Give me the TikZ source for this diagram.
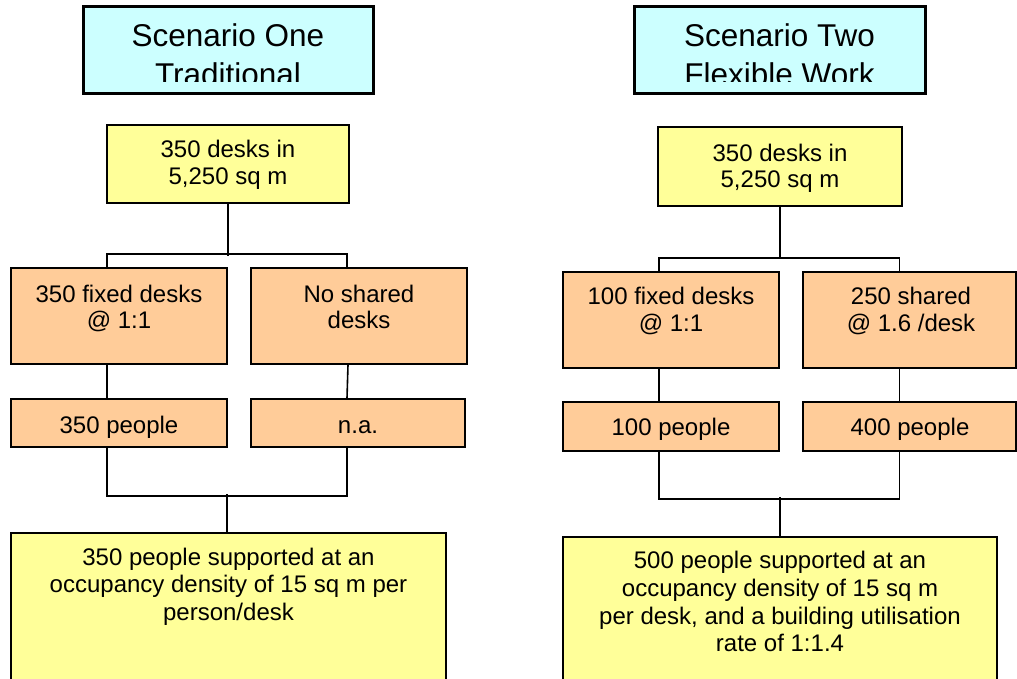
\documentclass[tikz,border=0pt]{standalone}
\usepackage{fontspec}
\setmainfont{Liberation Sans}
\definecolor{hcyan}{HTML}{CCFFFF}
\definecolor{byellow}{HTML}{FFFF99}
\definecolor{borange}{HTML}{FFCC99}
\tikzset{
  boxbase/.style={draw=black, line width=1.6pt, inner sep=0pt, rectangle},
  headbox/.style={boxbase, fill=hcyan, line width=3pt},
  ybox/.style={boxbase, fill=byellow},
  obox/.style={boxbase, fill=borange},
  txt/.style={anchor=base, inner sep=0pt, font=\fontsize{24}{28}\selectfont},
  htxt/.style={anchor=base, inner sep=0pt, font=\fontsize{31.5}{36}\selectfont},
  conn/.style={draw=black, line width=1.6pt}
}
\begin{document}
\begin{tikzpicture}[x=1pt,y=-1pt]
\clip (0,0) rectangle (1017,679);
\fill[white] (0,0) rectangle (1017,679);

% ---------- Scenario One ----------
\node[headbox, minimum width=290pt, minimum height=87pt] (h1) at (228,50.5) {};
\begin{scope}
  \clip (84,8) rectangle (372,82);
  \node[htxt] (h1a) at (228,47) {Scenario One};
  \node[htxt] (h1b) at (228,86) {Traditional};
\end{scope}

\node[ybox, minimum width=242pt, minimum height=78pt] (t1) at (228,164) {};
\node[txt] at (228,158) {350 desks in};
\node[txt] at (228,185) {5,250 sq m};

\node[obox, minimum width=216pt, minimum height=96pt] (m1) at (119,316) {};
\node[txt] at (119,302) {350 fixed desks};
\node[txt] at (119,328) {@ 1:1};
\node[obox, minimum width=216pt, minimum height=96pt] (m2) at (359,316) {};
\node[txt] at (359,302) {No shared};
\node[txt] at (359,328) {desks};

\node[obox, minimum width=216pt, minimum height=48pt] (p1) at (119,423) {};
\node[txt] at (119,433) {350 people};
\node[obox, minimum width=214pt, minimum height=48pt] (p2) at (358,423) {};
\node[txt] at (358,433) {n.a.};

\node[ybox, minimum width=435pt, minimum height=167pt] (b1) at (228.5,616.5) {};
\node[txt] at (228.5,565) {350 people supported at an};
\node[txt] at (228.5,592) {occupancy density of 15 sq m per};
\node[txt] at (228.5,620) {person/desk};

\draw[conn] (t1.south) -- ++(0,52);
\draw[conn] ([xshift=-12pt]m1.north) -- ++(0,-13) -| ([xshift=-12pt]m2.north);
\draw[conn] ([xshift=-12pt]m1.south) -- ([xshift=-12pt]p1.north);
\draw[conn] ([xshift=-11pt]m2.south) -- ([xshift=-11pt]p2.north);
\draw[conn] ([xshift=-12pt]p1.south) -- ++(0,48) -| ([xshift=-11pt]p2.south);
\draw[conn] ([xshift=-1.5pt]b1.north) -- ++(0,-38);

% ---------- Scenario Two ----------
\node[headbox, minimum width=291pt, minimum height=87pt] (h2) at (779.5,50.5) {};
\begin{scope}
  \clip (635,8) rectangle (924,82);
  \node[htxt] (h2a) at (779.5,47) {Scenario Two};
  \node[htxt] (h2b) at (779.5,86) {Flexible Work};
\end{scope}

\node[ybox, minimum width=244pt, minimum height=79pt] (t2) at (780,166.5) {};
\node[txt] at (780,162) {350 desks in};
\node[txt] at (780,188) {5,250 sq m};

\node[obox, minimum width=216pt, minimum height=96pt] (n1) at (671,320) {};
\node[txt] at (671,304) {100 fixed desks};
\node[txt] at (671,331) {@ 1:1};
\node[obox, minimum width=213pt, minimum height=96pt] (n2) at (909.5,320) {};
\node[txt] at (911,304) {250 shared};
\node[txt] at (911,331) {@ 1.6 /desk};

\node[obox, minimum width=216pt, minimum height=49pt] (q1) at (671,426.5) {};
\node[txt] at (671,435) {100 people};
\node[obox, minimum width=213pt, minimum height=49pt] (q2) at (909.5,426.5) {};
\node[txt] at (910,435) {400 people};

\node[ybox, minimum width=434pt, minimum height=163pt] (b2) at (780,618.5) {};
\node[txt] at (780,568) {500 people supported at an};
\node[txt] at (780,596) {occupancy density of 15 sq m};
\node[txt] at (780,624) {per desk, and a building utilisation};
\node[txt] at (780,651) {rate of 1:1.4};

\draw[conn] (t2.south) -- ++(0,52);
\draw[conn] ([xshift=-12pt]n1.north) -- ++(0,-13) -| ([xshift=-10pt]n2.north);
\draw[conn] ([xshift=-12pt]n1.south) -- ([xshift=-12pt]q1.north);
\draw[conn] ([xshift=-10pt]n2.south) -- ([xshift=-10pt]q2.north);
\draw[conn] ([xshift=-12pt]q1.south) -- ++(0,47) -| ([xshift=-10pt]q2.south);
\draw[conn] (b2.north) -- ++(0,-39);
\end{tikzpicture}
\end{document}
